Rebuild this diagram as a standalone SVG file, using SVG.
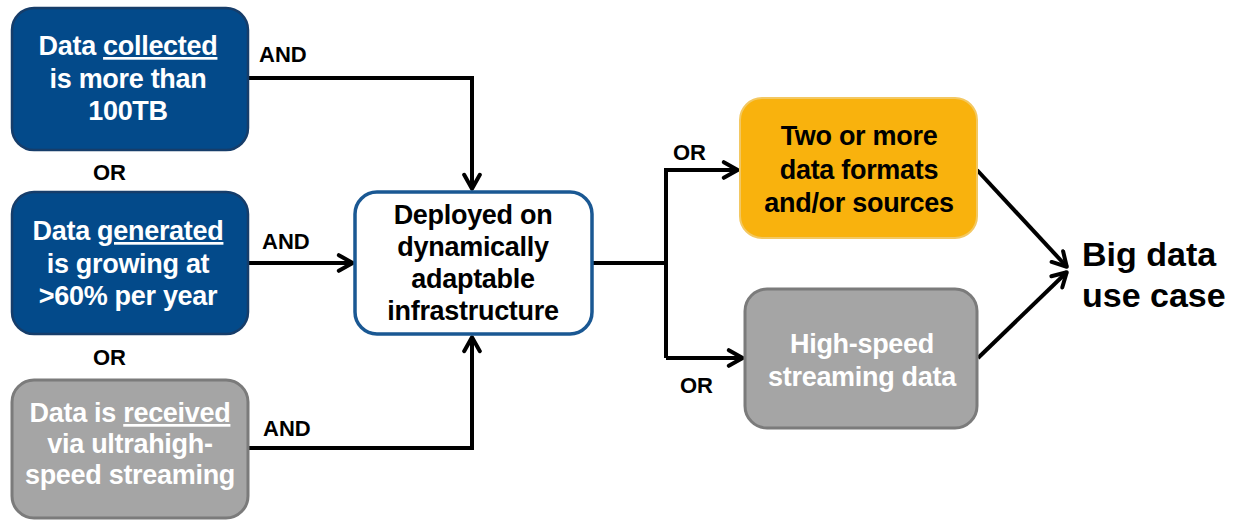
<svg xmlns="http://www.w3.org/2000/svg" width="1238" height="520" viewBox="0 0 1238 520">
<style>
.t{font-family:"Liberation Sans",Arial,sans-serif;font-weight:bold;text-anchor:middle;letter-spacing:-0.3px}
.w{fill:#ffffff;font-size:27px}
.k{fill:#000000;font-size:27px}
.lbl{font-family:"Liberation Sans",Arial,sans-serif;font-weight:bold;font-size:22px;fill:#000}
.blue{fill:#034a8a;stroke:#163d6a;stroke-width:2.5}
.gray{fill:#a5a5a5;stroke:#7b7b7b;stroke-width:3}
.u{text-decoration:underline}
.c{fill:none;stroke:#000;stroke-width:4}
</style>
<defs>
<marker id="oa" viewBox="0 0 12 12" refX="10.5" refY="6" markerWidth="5" markerHeight="5" orient="auto" markerUnits="strokeWidth">
<path d="M2,1.3 L10.3,6 L2,10.7" fill="none" stroke="#000" stroke-width="2.4" stroke-linecap="round" stroke-linejoin="round"/>
</marker>
</defs>
<g id="connectors">
<path class="c" d="M248,78 H472 V189" marker-end="url(#oa)"/>
<path class="c" d="M248,263 H353" marker-end="url(#oa)"/>
<path class="c" d="M248,448 H472 V337" marker-end="url(#oa)"/>
<path class="c" d="M592,263 H666"/>
<path class="c" d="M666,358 V170 H738" marker-end="url(#oa)"/>
<path class="c" d="M666,358 H743" marker-end="url(#oa)"/>
<path class="c" d="M977,170 L1067,267" marker-end="url(#oa)"/>
<path class="c" d="M978,358 L1067,272" marker-end="url(#oa)"/>
<text class="lbl" x="259" y="62">AND</text>
<text class="lbl" x="262" y="249">AND</text>
<text class="lbl" x="263" y="436">AND</text>
<text class="lbl" x="93" y="180">OR</text>
<text class="lbl" x="93" y="365">OR</text>
<text class="lbl" x="673" y="160">OR</text>
<text class="lbl" x="680" y="393">OR</text>
</g>
<g id="node-collected">
<rect class="blue" x="12" y="8" width="236" height="142" rx="22"/>
<text class="t w" x="128" y="55">Data <tspan class="u">collected</tspan></text>
<text class="t w" x="128" y="88">is more than</text>
<text class="t w" x="128" y="120">100TB</text>
</g>
<g id="node-generated">
<rect class="blue" x="12" y="192" width="236" height="142" rx="22"/>
<text class="t w" x="128" y="240">Data <tspan class="u">generated</tspan></text>
<text class="t w" x="128" y="273">is growing at</text>
<text class="t w" x="128" y="305">&gt;60% per year</text>
</g>
<g id="node-received">
<rect class="gray" x="12" y="380" width="236" height="138" rx="22"/>
<text class="t w" x="130" y="422">Data is <tspan class="u">received</tspan></text>
<text class="t w" x="130" y="453">via ultrahigh-</text>
<text class="t w" x="130" y="484">speed streaming</text>
</g>
<g id="node-deployed">
<rect x="355" y="192" width="237" height="142" rx="22" fill="#fff" stroke="#1a5893" stroke-width="3.5"/>
<text class="t k" x="473" y="224">Deployed on</text>
<text class="t k" x="473" y="256">dynamically</text>
<text class="t k" x="473" y="288">adaptable</text>
<text class="t k" x="473" y="320">infrastructure</text>
</g>
<g id="node-formats">
<rect x="740" y="98" width="237" height="140" rx="22" fill="#f9b20d" stroke="#f3c862" stroke-width="2"/>
<text class="t k" x="859" y="145">Two or more</text>
<text class="t k" x="859" y="179">data formats</text>
<text class="t k" x="859" y="212">and/or sources</text>
</g>
<g id="node-streaming">
<rect class="gray" x="745" y="289" width="232" height="139" rx="22"/>
<text class="t w" x="862" y="353">High-speed</text>
<text class="t w" x="862" y="386">streaming data</text>
</g>
<g id="node-usecase">
<text x="1082" y="266" font-family="Liberation Sans, Arial, sans-serif" font-weight="bold" font-size="34" fill="#000">Big data</text>
<text x="1082" y="307" font-family="Liberation Sans, Arial, sans-serif" font-weight="bold" font-size="34" fill="#000">use case</text>
</g>
</svg>
